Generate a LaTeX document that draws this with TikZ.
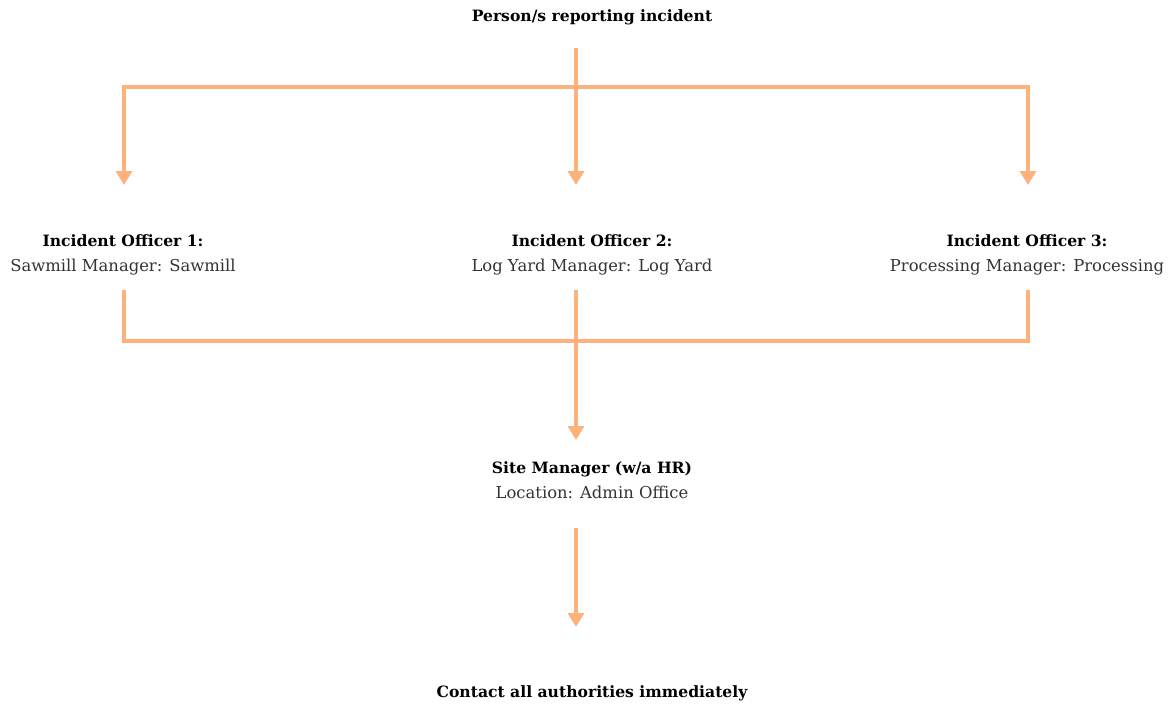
\documentclass[tikz,border=0pt]{standalone}
\usepackage{fontspec}
\setmainfont{DejaVu Serif}
\usetikzlibrary{arrows.meta}
\definecolor{flow}{HTML}{FDB17B}

\newcommand{\hd}[1]{{\fontsize{15.6}{25}\selectfont\bfseries\color{black}#1}}

\tikzset{
  lbl/.style={align=center,inner sep=0pt,font=\fontsize{16.4}{25}\selectfont,text=black!80},
  link/.style={draw=flow,line width=4pt}
}

\begin{document}
\begin{tikzpicture}[x=1pt,y=-1pt,>={Triangle[width=16pt,length=14pt]}]
\useasboundingbox (0,0) rectangle (1173,709);
\node[lbl] (rep) at (592,17) {\hd{Person/s reporting incident}};
\node[lbl] (off1) at (123,255) {\hd{Incident Officer 1:}\\Sawmill Manager: Sawmill};
\node[lbl] (off2) at (592,255) {\hd{Incident Officer 2:}\\Log Yard Manager: Log Yard};
\node[lbl] (off3) at (1027,255) {\hd{Incident Officer 3:}\\Processing Manager: Processing};
\node[lbl] (site) at (592,480) {\hd{Site Manager (w/a HR)}\\Location: Admin Office};
\node[lbl] (call) at (592,693) {\hd{Contact all authorities immediately}};

% top fan-out
\coordinate (t0) at (576,48);
\coordinate (j0) at (576,87);
\coordinate (t1) at (124,185);
\coordinate (t2) at (576,185);
\coordinate (t3) at (1028,185);
\draw[link,->] (t0) -- (t2);
\draw[link,->] (j0) -| (t1);
\draw[link,->] (j0) -| (t3);

% officers join
\coordinate (b1) at (124,290);
\coordinate (b2) at (576,290);
\coordinate (b3) at (1028,290);
\coordinate (m0) at (576,341);
\coordinate (s0) at (576,440);
\draw[link] (b1) |- (m0) -| (b3);
\draw[link,->] (b2) -- (s0);

% site manager to authorities
\coordinate (c1) at (576,528);
\coordinate (c2) at (576,627);
\draw[link,->] (c1) -- (c2);
\end{tikzpicture}
\end{document}
